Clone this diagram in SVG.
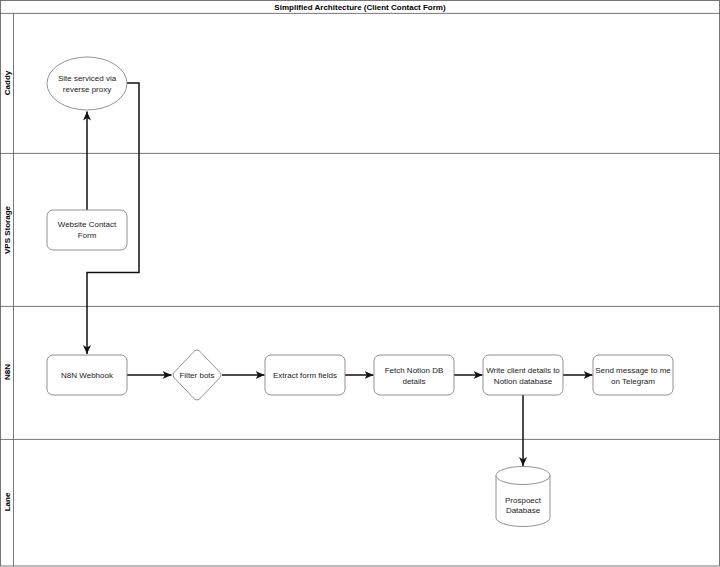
<svg xmlns="http://www.w3.org/2000/svg" width="720" height="567" viewBox="0 0 720 567">
<defs>
<style>
.lane{fill:none;stroke:#555;stroke-width:0.8}
.node{fill:#fff;stroke:#777;stroke-width:0.8}
.t{font-family:"Liberation Sans",Arial,sans-serif;font-size:8px;fill:#222;text-anchor:middle}
.b{font-weight:bold;fill:#000}
.edge{fill:none;stroke:#111;stroke-width:1.5}
</style>
<marker id="arr" markerUnits="userSpaceOnUse" markerWidth="10" markerHeight="10" viewBox="0 0 10 8" refX="9" refY="4" orient="auto">
<path d="M0,0 L9,4 L0,8 L2.5,4 Z" fill="#111"/>
</marker>
</defs>
<rect width="720" height="567" fill="#fff"/>
<g id="pool">
<rect class="lane" x="0.5" y="0.5" width="719" height="565.5"/>
<line class="lane" x1="0" y1="13.4" x2="720" y2="13.4"/>
<line class="lane" x1="13.5" y1="13.4" x2="13.5" y2="566"/>
<line class="lane" x1="0" y1="153.4" x2="720" y2="153.4"/>
<line class="lane" x1="0" y1="306.4" x2="720" y2="306.4"/>
<line class="lane" x1="0" y1="439.4" x2="720" y2="439.4"/>
<text class="t b" x="360" y="9.5">Simplified Architecture (Client Contact Form)</text>
<text class="t b" transform="translate(10,83) rotate(-90)">Caddy</text>
<text class="t b" transform="translate(10,230) rotate(-90)">VPS Storage</text>
<text class="t b" transform="translate(10,372) rotate(-90)">N8N</text>
<text class="t b" transform="translate(10,502) rotate(-90)">Lane</text>
</g>
<g id="connectors">
<path class="edge" d="M87,210 L87,111.5" marker-end="url(#arr)"/>
<path class="edge" d="M127,83 L139,83 L139,272.5 L87,272.5 L87,354" marker-end="url(#arr)"/>
<path class="edge" d="M127,375 L171.5,375" marker-end="url(#arr)"/>
<path class="edge" d="M222,375 L264.5,375" marker-end="url(#arr)"/>
<path class="edge" d="M345,375 L373.5,375" marker-end="url(#arr)"/>
<path class="edge" d="M454,375 L482.5,375" marker-end="url(#arr)"/>
<path class="edge" d="M563,375 L592.5,375" marker-end="url(#arr)"/>
<path class="edge" d="M523,395 L523,466" marker-end="url(#arr)"/>
</g>
<g id="node-caddy">
<ellipse class="node" cx="87" cy="83.5" rx="40" ry="26.5"/>
<text class="t" x="87" y="81">Site serviced via</text>
<text class="t" x="87" y="92">reverse proxy</text>
</g>
<g id="node-form">
<rect class="node" x="47" y="210" width="80" height="40" rx="6"/>
<text class="t" x="87" y="227">Website Contact</text>
<text class="t" x="87" y="237.5">Form</text>
</g>
<g id="node-webhook">
<rect class="node" x="47" y="355" width="80" height="40" rx="6"/>
<text class="t" x="87" y="377.8">N8N Webhook</text>
</g>
<g id="node-filter">
<path class="node" d="M197,350 Q199,350 201,352.5 L220,372.5 Q222,375 220,377.5 L201,397.5 Q199,400 197,400 Q195,400 193,397.5 L174,377.5 Q172,375 174,372.5 L193,352.5 Q195,350 197,350 Z"/>
<text class="t" x="197" y="377.8">Filter bots</text>
</g>
<g id="node-extract">
<rect class="node" x="265" y="355" width="80" height="40" rx="6"/>
<text class="t" x="305" y="377.8">Extract form fields</text>
</g>
<g id="node-fetch">
<rect class="node" x="374" y="355" width="80" height="40" rx="6"/>
<text class="t" x="414" y="373">Fetch Notion DB</text>
<text class="t" x="414" y="383.5">details</text>
</g>
<g id="node-write">
<rect class="node" x="483" y="355" width="80" height="40" rx="6"/>
<text class="t" x="523" y="373">Write client details to</text>
<text class="t" x="523" y="383.5">Notion database</text>
</g>
<g id="node-telegram">
<rect class="node" x="593" y="355" width="80" height="40" rx="6"/>
<text class="t" x="633" y="373">Send message to me</text>
<text class="t" x="633" y="383.5">on Telegram</text>
</g>
<g id="node-db">
<path class="node" d="M496,475.5 A27,9 0 0 1 550,475.5 L550,517.5 A27,9 0 0 1 496,517.5 Z"/>
<path class="node" fill="none" d="M496,475.5 A27,9 0 0 0 550,475.5"/>
<text class="t" x="523" y="502.5">Prospoect</text>
<text class="t" x="523" y="513">Database</text>
</g>
</svg>
